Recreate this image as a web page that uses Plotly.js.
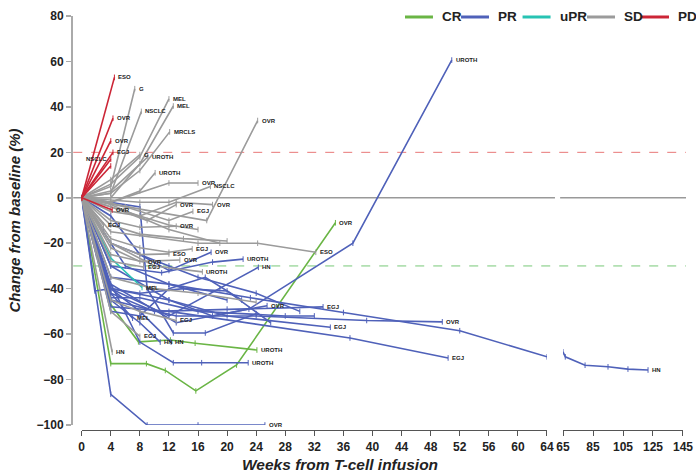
<!DOCTYPE html>
<html>
<head>
<meta charset="utf-8">
<script src="https://cdn.plot.ly/plotly-3.0.1.min.js"></script>
<style>html,body{margin:0;padding:0;background:#fff}#chart{width:696px;height:475px}</style>
</head>
<body>
<div id="chart"></div>
<script>
// ---------------- DATA (weeks from infusion, % change from baseline) ----------------
const categories = ["CR", "PR", "uPR", "SD", "PD"];
const categoryColors = {CR: "#6ab545", PR: "#4f61b9", uPR: "#27c3b3", SD: "#9b9b9b", PD: "#cc2536"};

const crWeeks = [
  [0, 4, 8.9, 11.5, 15.7, 21.3, 34.9],
  [0, 4, 7.8, 12.2, 15.6, 24.1]
];
const crChange = [
  [0, -73, -73, -76, -85, -73.6, -11],
  [0, -47, -63.4, -62.6, -64, -67]
];
const crLabels = ["OVR", "UROTH"];

const prWeeks = [
  [0, 4, 13, 23, 37.3, 50.9],
  [0, 4, 13, 24, 39.2, 49.6],
  [0, 4, 12, 36.9, 50.4],
  [0, 4, 12, 23.2, 36, 52, 64],
  [0, 4, 12, 20, 34.2],
  [0, 4, 10, 20, 33.2],
  [0, 4, 12, 18, 25.5],
  [0, 2, 8, 12.6, 16.5, 22.9],
  [0, 4, 9, 16, 25.2],
  [0, 4, 8, 10.8],
  [0, 4, 8, 12.3],
  [0, 4, 7],
  [0, 4, 12, 19, 24.3],
  [0, 4, 11, 18, 22.2],
  [0, 4, 8, 12, 17.8],
  [0, 8, 9, 12.6, 17, 24],
  [0, 4, 8, 16, 28, 32],
  [0, 1.8, 4, 8, 14, 20, 26],
  [0, 4, 12, 16, 24, 30],
  [0, 3, 6, 12, 20],
  [0, 4, 8, 12, 17, 22]
];
const prChange = [
  [0, -38, -55, -49, -20, 60.6],
  [0, -45, -52, -52, -54, -54.6],
  [0, -48, -50, -61.7, -70.5],
  [0, -35, -38, -44, -50.5, -58.5, -70],
  [0, -40, -45, -52, -57],
  [0, -42, -50, -49, -48],
  [0, -30, -45, -52, -47.5],
  [0, -25, -63.5, -72.6, -72.6, -72.6],
  [0, -86.5, -100, -100, -100],
  [0, -45, -55, -63.5],
  [0, -40, -50, -63.5],
  [0, -42, -53],
  [0, -40, -52, -40, -30.6],
  [0, -30, -33, -28.3, -27],
  [0, -8, -25, -32, -24],
  [0, -4, -40, -59.5, -59.5, -51],
  [0, -44, -44, -50, -52, -52],
  [0, -41, -40, -42, -40, -41, -55],
  [0, -20, -30, -35, -42, -50],
  [0, -15, -30, -38, -45],
  [0, -50, -52, -40, -35, -45]
];
const prLabels = ["UROTH", "OVR", "EGJ", "", "EGJ", "EGJ", "OVR", "UROTH", "OVR", "HN", "HN", "MEL", "HN", "UROTH", "OVR", "", "", "", "", "", ""];

// continuation of the long PR response beyond week 64 (second axis segment)
const prLateWeeks = [65, 66.5, 79.7, 95, 108.3, 121.7];
const prLateChange = [-67.8, -70, -73.7, -74.4, -75.4, -75.8];
const prLateLabel = "HN";

const uprWeeks = [[0, 4, 8.3]];
const uprChange = [[0, -26.5, -39.5]];
const uprLabels = ["MEL"];

const sdWeeks = [
  [0, 4, 7.3],
  [0, 4, 8.2],
  [0, 4, 8, 12],
  [0, 4, 8, 12.6],
  [0, 4, 8, 12.1],
  [0, 4, 8],
  [0, 4, 9.1],
  [0, 4, 8, 10.1],
  [0, 4, 12, 16],
  [0, 8, 12, 17.7],
  [0, 8, 17.2, 24.2],
  [0, 4, 9, 13],
  [0, 8, 13, 18],
  [0, 6, 12, 15.3],
  [0, 4, 8, 13],
  [0, 3],
  [0, 4, 16, 24.2, 32.2],
  [0, 4, 8, 12, 15.2],
  [0, 4, 8, 12],
  [0, 4, 8, 13.5],
  [0, 4, 8.5],
  [0, 4, 8.5],
  [0, 4, 10, 16.6],
  [0, 4, 8, 13],
  [0, 4, 8],
  [0, 4.2],
  [0, 4, 8, 12, 16],
  [0, 4, 12, 19],
  [0, 4, 8, 14, 20],
  [0, 4, 10, 16, 24]
];
const sdChange = [
  [0, 5, 48],
  [0, 2, 38],
  [0, 6, 18, 43.5],
  [0, 0, 15, 40.4],
  [0, 2, 12, 29],
  [0, 8, 19],
  [0, 3, 18],
  [0, -2, 3, 11],
  [0, -2, 6.5, 6.5],
  [0, -2, -2, 5],
  [0, -5, -10, 34],
  [0, -4, -10, -3],
  [0, -8, -2, -3],
  [0, -4, -10, -6],
  [0, -10, -13, -12.5],
  [0, -12],
  [0, -15, -20, -20, -24],
  [0, -18, -22, -24, -22.5],
  [0, -20, -25, -24.7],
  [0, -22, -28, -27.4],
  [0, -25, -28.3],
  [0, -28, -30.5],
  [0, -20, -30, -32.6],
  [0, -45, -50, -54],
  [0, -50, -61],
  [0, -68],
  [0, -6, -8, -12, -14],
  [0, -3, -14, -20],
  [0, -12, -16, -18, -19],
  [0, -35, -40, -42, -46]
];
const sdLabels = ["G", "NSCLC", "MEL", "MEL", "MRCLS", "G", "UROTH", "UROTH", "OVR", "NSCLC", "OVR", "OVR", "OVR", "EGJ", "OVR", "EGJ", "ESO", "EGJ", "ESO", "OVR", "OVR", "EGJ", "UROTH", "EGJ", "EGJ", "HN", "", "", "", ""];

const pdWeeks = [[0, 4.5], [0, 4.3], [0, 4], [0, 4.3], [0, 4], [0, 4], [0, 4.2]];
const pdChange = [[0, 53], [0, 35], [0, 25], [0, 20], [0, 17], [0, 14], [0, -5.4]];
const pdLabels = ["ESO", "OVR", "OVR", "EGJ", "NSCLC", "", "OVR"];

const xTicksEarly = [0, 4, 8, 12, 16, 20, 24, 28, 32, 36, 40, 44, 48, 52, 56, 60, 64];
const xTicksLate = [65, 85, 105, 125, 145];
const yTicks = [-100, -80, -60, -40, -20, 0, 20, 40, 60, 80];
const thresholds = {progression: 20, response: -30};

// ---------------- BUILD ----------------
const traces = [];
const annotations = [];
const shapes = [];
const FONT = "Liberation Sans, Arial, sans-serif";
const labelFont = {family: FONT, size: 6, color: "#222", weight: "bold"};

function addGroup(cat, weeks, change, labels, xa) {
  const col = categoryColors[cat];
  weeks.forEach((w, i) => {
    traces.push({
      x: w, y: change[i], type: "scatter", mode: "lines+markers", name: cat,
      xaxis: xa, yaxis: "y", showlegend: false, hoverinfo: "skip",
      line: {color: col, width: 1.6},
      marker: {symbol: "line-ns", size: 4, color: col, line: {color: col, width: 1}}
    });
    if (labels[i]) {
      const right = (cat === "PD" && labels[i] === "NSCLC");
      annotations.push({
        x: w[w.length - 1], y: change[i][change[i].length - 1],
        xref: xa, yref: "y", text: labels[i], showarrow: false,
        xanchor: right ? "right" : "left", xshift: right ? -2 : 2,
        font: labelFont
      });
    }
  });
}
addGroup("CR", crWeeks, crChange, crLabels, "x");
addGroup("PR", prWeeks, prChange, prLabels, "x");
addGroup("PR", [prLateWeeks], [prLateChange], [prLateLabel], "x2");
addGroup("uPR", uprWeeks, uprChange, uprLabels, "x");
addGroup("SD", sdWeeks, sdChange, sdLabels, "x");
addGroup("PD", pdWeeks, pdChange, pdLabels, "x");

// legend drawn as line keys + text in paper coordinates
const legendKeyX = [0.5423, 0.6336, 0.7338, 0.8388, 0.9267];
const legendY = 0.9976;
categories.forEach((c, i) => {
  shapes.push({type: "line", xref: "paper", yref: "paper",
    x0: legendKeyX[i], x1: legendKeyX[i] + 0.0456, y0: legendY, y1: legendY,
    line: {color: categoryColors[c], width: 3}});
  annotations.push({x: legendKeyX[i] + 0.057, y: legendY, xref: "paper", yref: "paper",
    text: c, showarrow: false, xanchor: "left", yanchor: "middle",
    font: {family: FONT, size: 13.5, weight: "bold", color: "#222"}});
});

annotations.push({
  x: 0.4365, y: -0.083, xref: "paper", yref: "paper", showarrow: false,
  text: "Weeks from T-cell infusion", xanchor: "center", yanchor: "middle",
  font: {family: FONT, size: 15.5, weight: "bold", style: "italic", color: "#222"}
});

shapes.push(
  {type: "line", xref: "paper", yref: "y", x0: 0.002, x1: 1, y0: thresholds.progression, y1: thresholds.progression,
    line: {color: "#e87878", width: 1, dash: "dash"}, layer: "below"},
  {type: "line", xref: "paper", yref: "y", x0: 0.002, x1: 1, y0: thresholds.response, y1: thresholds.response,
    line: {color: "#78c878", width: 1, dash: "dash"}, layer: "below"},
  {type: "line", xref: "paper", yref: "y", x0: 0.002, x1: 0.7866, y0: 0, y1: 0,
    line: {color: "#999", width: 1.5}, layer: "below"},
  {type: "line", xref: "paper", yref: "y", x0: 0.795, x1: 1, y0: 0, y1: 0,
    line: {color: "#999", width: 1.5}, layer: "below"}
);

const tickFont = {family: FONT, size: 12, weight: "bold", color: "#222"};

const layout = {
  width: 696, height: 475,
  margin: {l: 72, r: 10, t: 16, b: 45, autoexpand: false},
  paper_bgcolor: "#fff", plot_bgcolor: "#fff",
  showlegend: false,
  xaxis: {domain: [0.0158, 0.7736], range: [0, 64], anchor: "free", position: 0,
    tickvals: xTicksEarly, ticks: "outside", ticklen: 5, tickcolor: "#555", tickwidth: 1,
    showline: true, linecolor: "#555", linewidth: 1.2, showgrid: false, zeroline: false,
    tickfont: tickFont, automargin: false},
  xaxis2: {domain: [0.7997, 0.9951], range: [65, 145], anchor: "free", position: 0,
    tickvals: xTicksLate, ticks: "outside", ticklen: 5, tickcolor: "#555", tickwidth: 1,
    showline: true, linecolor: "#555", linewidth: 1.2, showgrid: false, zeroline: false,
    tickfont: tickFont, automargin: false},
  yaxis: {domain: [0.0121, 1], range: [-100, 80], anchor: "free", position: 0,
    tickvals: yTicks, ticks: "outside", ticklen: 5, tickcolor: "#aaa", tickwidth: 1.5,
    showline: true, linecolor: "#aaa", linewidth: 2, showgrid: false, zeroline: false,
    tickfont: tickFont, automargin: false,
    title: {text: "Change from baseline (%)", standoff: 11,
      font: {family: FONT, size: 15, weight: "bold", style: "italic", color: "#222"}}},
  shapes: shapes,
  annotations: annotations
};

Plotly.newPlot("chart", traces, layout, {staticPlot: true, displayModeBar: false});
</script>
</body>
</html>
